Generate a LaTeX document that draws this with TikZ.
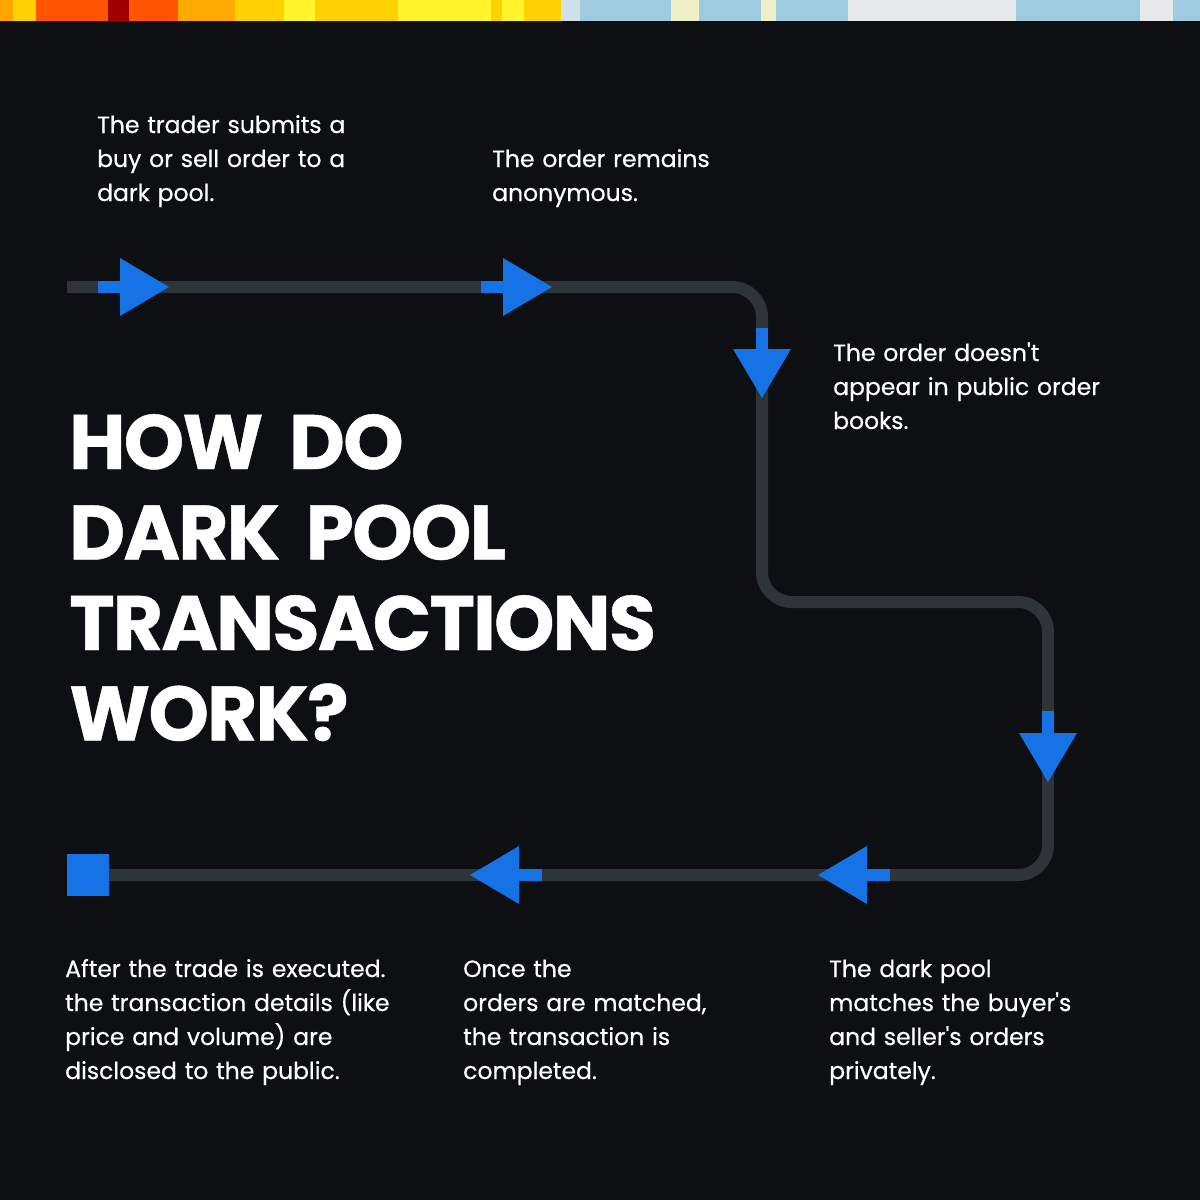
\documentclass[tikz,border=0pt]{standalone}
\usepackage{fontspec}
\setmainfont{Poppins}[Ligatures=TeXOff]
\newfontfamily\notefont{Poppins}[Ligatures=TeXOff,FakeBold=0.5]
\newfontfamily\headfont{Poppins}[Ligatures=TeXOff,LetterSpace=-2.4,WordSpace=0.6,FakeBold=0.6]
\usetikzlibrary{arrows.meta,positioning}

\definecolor{bgdark}{HTML}{0D0F12}
\definecolor{trackgray}{HTML}{2F3439}
\definecolor{flowblue}{HTML}{1673E6}
\definecolor{barorange}{HTML}{FFA500}
\definecolor{bargold}{HTML}{FFD200}
\definecolor{barred}{HTML}{FF5500}
\definecolor{bardark}{HTML}{A00000}
\definecolor{baramber}{HTML}{FFAA00}
\definecolor{baryellow}{HTML}{FFF52A}
\definecolor{barmist}{HTML}{CFE0E8}
\definecolor{barblue}{HTML}{9ECBE0}
\definecolor{barcream}{HTML}{F0F0C8}
\definecolor{barpale}{HTML}{E5E9EA}

\begin{document}
\begin{tikzpicture}[x=1pt,y=-1pt,
	track/.style={draw=trackgray,line width=12pt,rounded corners=30pt},
	flow/.style={draw=flowblue,line width=12pt,-{Triangle[length=49pt,width=58pt,line width=0pt]}},
	stepnote/.style={text=white,anchor=base west,inner sep=0pt,text width=420pt,align=left,font=\notefont\fontsize{23.5}{34}\selectfont},
	headline/.style={text=white,anchor=base west,inner sep=0pt,text width=700pt,align=left,font=\headfont\fontsize{77}{90.5}\selectfont\bfseries}]
	
	\useasboundingbox (0,0) rectangle (1200,1200);
	\fill[bgdark] (0,0) rectangle (1200,1200);
	
	% colour strip along the top
	\foreach \xa/\xb/\c in {0/13/barorange,13/36/bargold,36/108/barred,108/129/bardark,129/178/barred,
		178/235/baramber,235/284/bargold,284/315/baryellow,315/398/bargold,398/491/baryellow,
		491/502/bargold,502/524/baryellow,524/561/bargold,561/580/barmist,580/671/barblue,
		671/699/barcream,699/761/barblue,761/776/barcream,776/848/barblue,848/1016/barpale,
		1016/1140/barblue,1140/1173/barpale,1173/1200/barblue}
		\fill[\c] (\xa,0) rectangle (\xb,21);
	
	\node [headline] (title) at (69,469) {HOW DO\\DARK POOL\\TRANSACTIONS\\WORK?};
	
	\coordinate (start) at (67,287);
	\coordinate (bend1) at (762,287);
	\coordinate (bend2) at (762,602);
	\coordinate (bend3) at (1048,602);
	\coordinate (bend4) at (1048,875);
	\node [fill=flowblue,minimum width=42pt,minimum height=42pt,inner sep=0pt] (stop) at (88,875) {};
	
	\draw [track] (start) -- (bend1) -- (bend2) -- (bend3) -- (bend4) -- (stop.east);
	
	\coordinate (a1) at (98,287);   \coordinate (a1tip) at (169,287);
	\coordinate (a2) at (481,287);  \coordinate (a2tip) at (552,287);
	\coordinate (a3) at (762,328);  \coordinate (a3tip) at (762,398);
	\coordinate (a4) at (1048,711); \coordinate (a4tip) at (1048,782);
	\coordinate (a5) at (890,875);  \coordinate (a5tip) at (818,875);
	\coordinate (a6) at (542,875);  \coordinate (a6tip) at (470,875);
	
	\draw [flow] (a1) to (a1tip);
	\draw [flow] (a2) to (a2tip);
	\draw [flow] (a3) to (a3tip);
	\draw [flow] (a4) to (a4tip);
	\draw [flow] (a5) to (a5tip);
	\draw [flow] (a6) to (a6tip);
	
	\node [stepnote] (submit) at (97,133) {The trader submits a\\buy or sell order to a\\dark pool.};
	\node [stepnote] (anon) at (492,167) {The order remains\\anonymous.};
	\node [stepnote] (hidden) at (833,361) {The order doesn't\\appear in public order\\books.};
	\node [stepnote] (match) at (829,977) {The dark pool\\matches the buyer's\\and seller's orders\\privately.};
	\node [stepnote] (done) at (463,977) {Once the\\orders are matched,\\the transaction is\\completed.};
	\node [stepnote] (public) at (65,977) {After the trade is executed.\\the transaction details (like\\price and volume) are\\disclosed to the public.};
\end{tikzpicture}
\end{document}
